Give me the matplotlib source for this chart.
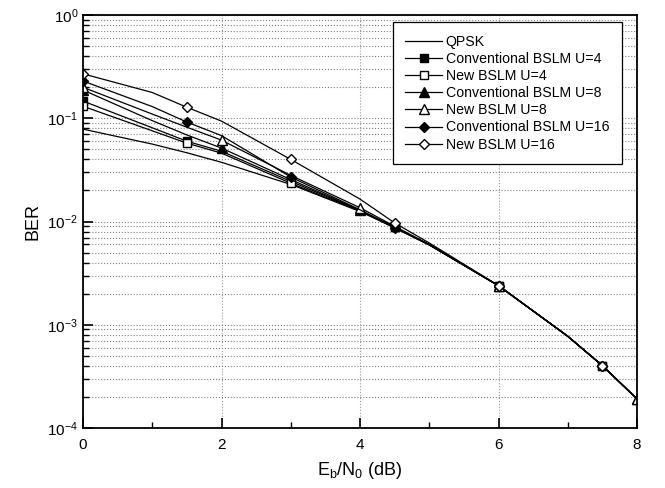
import math
import matplotlib
matplotlib.use("Agg")
import matplotlib.pyplot as plt
from matplotlib.ticker import LogLocator, FixedLocator, FuncFormatter, NullFormatter

plt.rcParams['font.family'] = ['Liberation Sans', 'DejaVu Sans']
plt.rcParams['mathtext.fontset'] = 'custom'
plt.rcParams['mathtext.rm'] = 'Liberation Sans'
plt.rcParams['mathtext.it'] = 'Liberation Sans:italic'

# Eb/N0 points (dB)
ebn0 = [0, 1, 1.5, 2, 3, 4, 4.5, 5, 6, 7, 7.5, 8]

qpsk = [0.0786, 0.0563, 0.0464, 0.0375, 0.0229, 0.0125, 0.0087, 0.00595, 0.00239, 0.000773, 0.000401, 0.000191]
conv_u4 = [0.147, 0.081, 0.060, 0.048, 0.0245, 0.0128, 0.0088, 0.00595, 0.00239, 0.000773, 0.000401, 0.000191]
new_u4 = [0.131, 0.0757, 0.0575, 0.046, 0.0235, 0.0127, 0.0088, 0.00595, 0.00239, 0.000773, 0.000401, 0.000191]
conv_u8 = [0.188, 0.095, 0.069, 0.0515, 0.0255, 0.0129, 0.0088, 0.00595, 0.00239, 0.000773, 0.000401, 0.000191]
new_u8 = [0.200, 0.110, 0.082, 0.0615, 0.028, 0.0136, 0.0090, 0.00600, 0.00239, 0.000773, 0.000401, 0.000191]
conv_u16 = [0.230, 0.130, 0.092, 0.068, 0.027, 0.0130, 0.00865, 0.00595, 0.00239, 0.000773, 0.000401, 0.000191]
new_u16 = [0.270, 0.178, 0.128, 0.094, 0.040, 0.0165, 0.0097, 0.0062, 0.00240, 0.000773, 0.000401, 0.000191]

# marker positions (indices into ebn0)
every_15 = [0, 2, 4, 6, 8, 10]   # 0, 1.5, 3, 4.5, 6, 7.5
every_2 = [0, 3, 5, 8, 11]       # 0, 2, 4, 6, 8

fig = plt.figure(figsize=(6.65, 4.88), dpi=100)
ax = fig.add_axes([0.1248, 0.123, 0.8332, 0.846])

lw = 0.9
ax.plot(ebn0, qpsk, color='black', lw=lw, label='QPSK')
ax.plot(ebn0, conv_u4, color='black', lw=lw, marker='s', ms=5.5, mfc='black', mec='black',
        markevery=every_15, label='Conventional BSLM U=4')
ax.plot(ebn0, new_u4, color='black', lw=lw, marker='s', ms=5.5, mfc='white', mec='black',
        markevery=every_15, label='New BSLM U=4')
ax.plot(ebn0, conv_u8, color='black', lw=lw, marker='^', ms=6.5, mfc='black', mec='black',
        markevery=every_2, label='Conventional BSLM U=8')
ax.plot(ebn0, new_u8, color='black', lw=lw, marker='^', ms=6.5, mfc='white', mec='black',
        markevery=every_2, label='New BSLM U=8')
ax.plot(ebn0, conv_u16, color='black', lw=lw, marker='D', ms=5.5, mfc='black', mec='black',
        markevery=every_15, label='Conventional BSLM U=16')
ax.plot(ebn0, new_u16, color='black', lw=lw, marker='D', ms=5.5, mfc='white', mec='black',
        markevery=every_15, label='New BSLM U=16')

ax.set_yscale('log')
ax.set_xlim(0, 8)
ax.set_ylim(1e-4, 1)
ax.xaxis.set_major_locator(FixedLocator([0, 2, 4, 6, 8]))
ax.xaxis.set_minor_locator(FixedLocator([1, 3, 5, 7]))
ax.yaxis.set_major_locator(LogLocator(base=10, numticks=10))
ax.yaxis.set_minor_locator(LogLocator(base=10, subs=range(2, 10), numticks=50))
ax.yaxis.set_major_formatter(FuncFormatter(lambda v, p: r'$10^{%d}$' % round(math.log10(v))))
ax.yaxis.set_minor_formatter(NullFormatter())

ax.grid(True, which='major', axis='x', color='#999999', ls=':', lw=0.8)
ax.grid(True, which='both', axis='y', color='#808080', ls=':', lw=0.8)

ax.tick_params(which='both', direction='in', top=False, right=False, labelsize=11)
ax.tick_params(axis='x', pad=7)
ax.tick_params(which='major', length=7, width=1.2)
ax.tick_params(which='minor', length=4, width=1)
for s in ax.spines.values():
    s.set_linewidth(1.3)

ax.set_xlabel(r'E$_\mathrm{b}$/N$_\mathrm{0}$ (dB)', fontsize=13, labelpad=6)
ax.set_ylabel('BER', fontsize=13)

leg = ax.legend(loc='upper right', fontsize=10.2, frameon=True, fancybox=False,
                edgecolor='black', framealpha=1, handlelength=2.6, handletextpad=0.25,
                borderpad=0.9, labelspacing=0.22, borderaxespad=0,
                bbox_to_anchor=(0.973, 0.983))
leg.get_frame().set_linewidth(0.9)

fig.savefig('out.png', dpi=100)
